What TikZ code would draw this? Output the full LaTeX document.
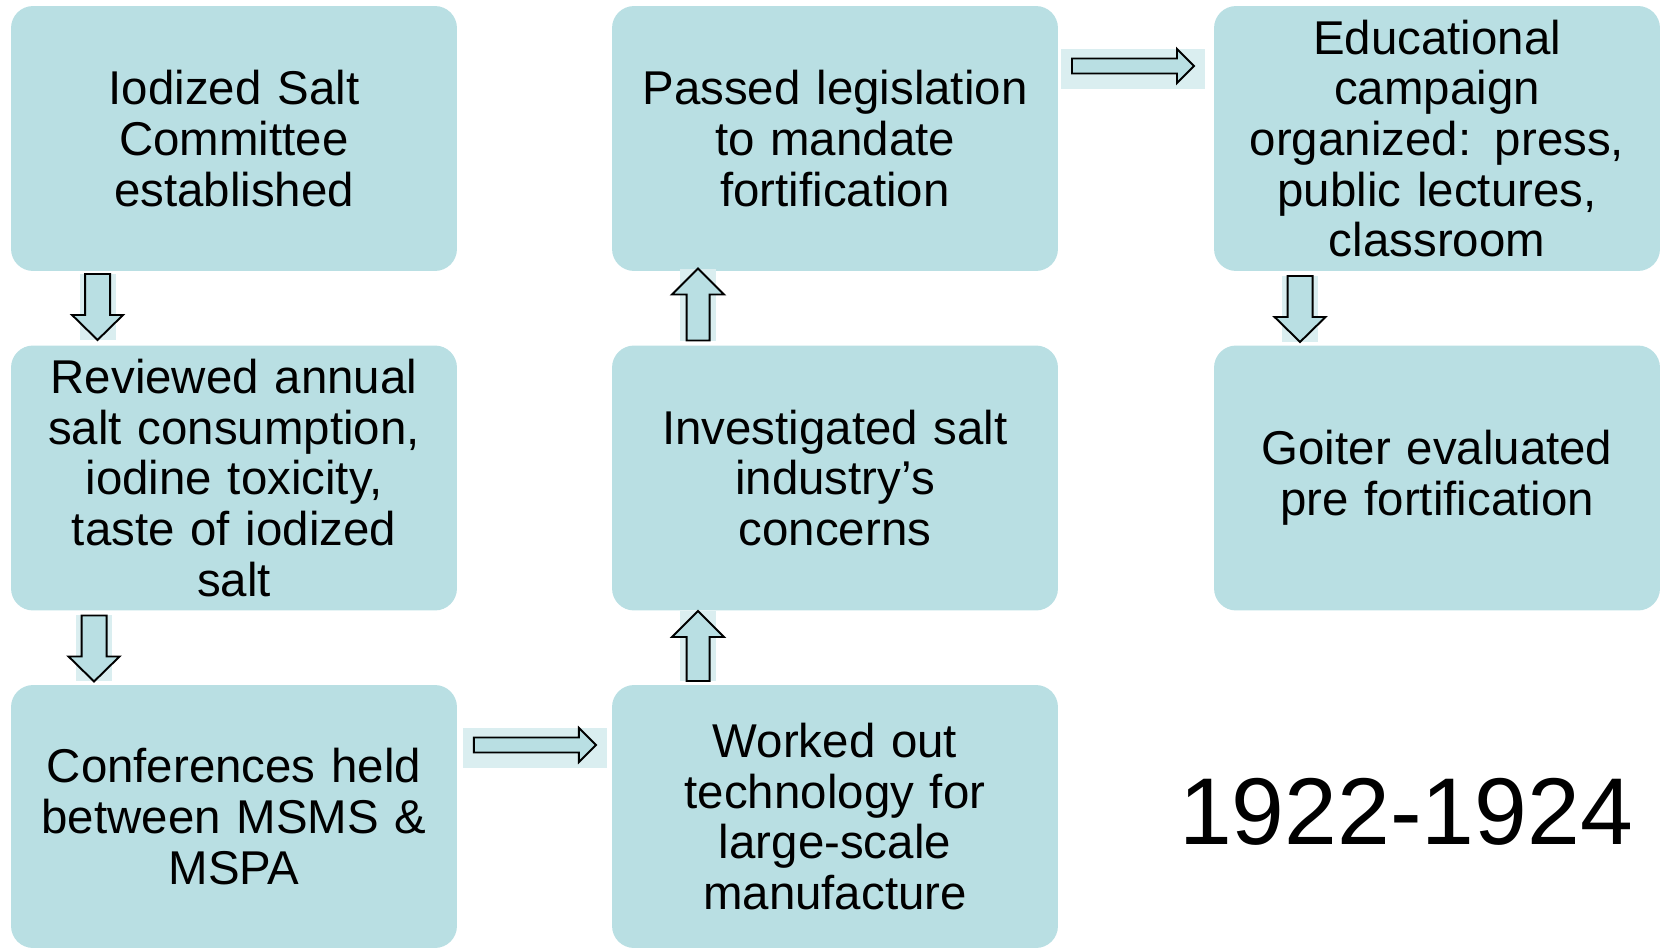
\documentclass[tikz,border=0pt]{standalone}
\usepackage{fontspec}
\setmainfont{Liberation Sans}
\usetikzlibrary{calc}
\definecolor{boxblue}{RGB}{185,223,227}
\definecolor{arrowbg}{RGB}{218,238,240}
\tikzset{
	stepbox/.style = {draw=none, fill=boxblue, rounded corners=0.44cm,
		minimum width=8.92cm, minimum height=5.3cm, inner sep=0pt, outer sep=0pt,
		text width=8.6cm, align=center, font=\fontsize{27}{28.8}\selectfont},
	% block arrow pointing along local x: length, shaft half width, head half width, head length
	pics/blockarrow/.style n args = {4}{code = {
		\fill[arrowbg] (0,-18) rectangle (#1,18);
		\draw[fill=boxblue, line width=1.1pt, line join=miter]
			(0,-#2) -- ({#1-#4},-#2) -- ({#1-#4},-#3) -- (#1,0) -- ({#1-#4},#3) -- ({#1-#4},#2) -- (0,#2) -- cycle;
	}},
	pics/sidearrow/.style = {code = {
		\fill[arrowbg] (-11,-17) rectangle (133,23);
		\draw[fill=boxblue, line width=1.1pt, line join=miter]
			(0,-7.5) -- (105,-7.5) -- (105,-17) -- (122,0) -- (105,17) -- (105,7.5) -- (0,7.5) -- cycle;
	}}
}
\begin{document}
\begin{tikzpicture}[x=0.02cm, y=-0.02cm]
	\useasboundingbox (0,0) rectangle (1665,949);
	% first column
	\node[stepbox] (committee) at (234,138.5) {Iodized Salt\\Committee\\established};
	\node[stepbox] (reviewed) at (234,478) {Reviewed annual\\salt consumption,\\iodine toxicity,\\taste of iodized\\salt};
	\node[stepbox, minimum height=5.26cm] (conferences) at (234,816.5) {Conferences held\\between MSMS \&\\MSPA};
	% second column
	\node[stepbox, minimum height=5.26cm] (technology) at (835,816.5) {Worked out\\technology for\\large-scale\\manufacture};
	\node[stepbox] (industry) at (835,478) {Investigated salt\\industry’s\\concerns};
	\node[stepbox] (legislation) at (835,138.5) {Passed legislation\\to mandate\\fortification};
	% third column
	\node[stepbox] (campaign) at (1437,138.5) {Educational\\campaign\\organized: press,\\public lectures,\\classroom};
	\node[stepbox] (goiter) at (1437,478) {Goiter evaluated\\pre fortification};
	\node[font=\fontsize{54}{60}\selectfont] (years) at (1406,812) {1922-1924};
	% block arrows
	\pic[rotate=-90] at ($(committee.south west)+(86.5,3)$) {blockarrow={66}{12.5}{25.5}{25}};
	\pic[rotate=-90] at ($(reviewed.south west)+(83,5)$) {blockarrow={66}{12.5}{25.5}{25}};
	\pic at ($(conferences.east)+(17,-71.5)$) {sidearrow};
	\pic[rotate=90] at ($(technology.north west)+(86,-4)$) {blockarrow={70}{11.5}{26}{26}};
	\pic[rotate=90] at ($(industry.north west)+(86,-5)$) {blockarrow={72}{11.5}{26}{26}};
	\pic at ($(legislation.east)+(14,-72.5)$) {sidearrow};
	\pic[rotate=-90] at ($(campaign.south west)+(86,5)$) {blockarrow={66}{12.5}{25.5}{25}};
\end{tikzpicture}
\end{document}
